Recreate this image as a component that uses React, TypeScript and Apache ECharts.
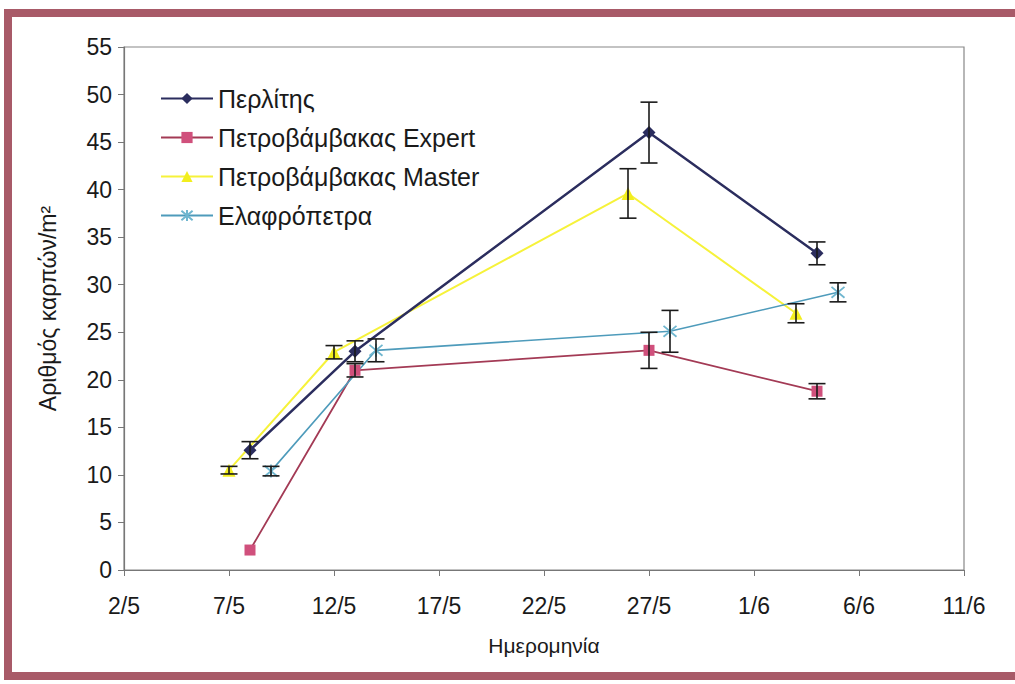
import React, { useEffect, useRef } from "react";
import * as echarts from "echarts";

const tickLabels = ["2/5", "7/5", "12/5", "17/5", "22/5", "27/5", "1/6", "6/6", "11/6"];

const perlitisDates = ["8/5", "13/5", "27/5", "4/6"];
const perlitisValues = [12.6, 23.0, 46.0, 33.3];
const perlitisErr = [0.9, 1.1, 3.2, 1.2];

const expertDates = ["8/5", "13/5", "27/5", "4/6"];
const expertValues = [2.1, 21.0, 23.1, 18.8];
const expertErr = [0.0, 0.7, 1.9, 0.8];

const masterDates = ["7/5", "12/5", "26/5", "3/6"];
const masterValues = [10.5, 22.9, 39.6, 27.0];
const masterErr = [0.4, 0.7, 2.6, 1.0];

const elafroDates = ["9/5", "14/5", "28/5", "5/6"];
const elafroValues = [10.4, 23.1, 25.1, 29.2];
const elafroErr = [0.5, 1.2, 2.2, 1.0];

const seriesNames = ["Περλίτης", "Πετροβάμβακας Expert", "Πετροβάμβακας Master", "Ελαφρόπετρα"];

function dayOf(s: string): number {
  const [d, m] = s.split("/").map(Number);
  return m === 5 ? d - 2 : 29 + d;
}

function pts(dates: string[], vals: number[]) {
  return dates.map((d, i) => [dayOf(d), vals[i]]);
}
function errs(dates: string[], vals: number[], e: number[]) {
  return dates.map((d, i) => [dayOf(d), vals[i] - e[i], vals[i] + e[i]]);
}

const FONT = "Liberation Sans";

function errorSeries(data: number[][]) {
  return {
    type: "custom",
    data,
    z: 5,
    silent: true,
    renderItem: (params: any, api: any) => {
      const x = api.value(0);
      const lo = api.value(1);
      const hi = api.value(2);
      if (hi - lo < 0.05) return { type: "group", children: [] };
      const p1 = api.coord([x, hi]);
      const p2 = api.coord([x, lo]);
      const w = 8.5;
      const style = { stroke: "#1a1a1a", lineWidth: 1.6 };
      return {
        type: "group",
        children: [
          { type: "line", shape: { x1: p1[0], y1: p1[1], x2: p2[0], y2: p2[1] }, style },
          { type: "line", shape: { x1: p1[0] - w, y1: p1[1], x2: p1[0] + w, y2: p1[1] }, style },
          { type: "line", shape: { x1: p2[0] - w, y1: p2[1], x2: p2[0] + w, y2: p2[1] }, style },
        ],
      };
    },
  };
}

export default function App() {
  const ref = useRef<HTMLDivElement>(null);
  useEffect(() => {
    if (!ref.current) return;
    const chart = echarts.init(ref.current, null, { renderer: "svg" });
    const asterisk = "path://M0,0L10,10M10,0L0,10M5,-1L5,11";
    chart.setOption({
      animation: false,
      backgroundColor: "#ffffff",
      textStyle: { fontFamily: FONT },
      grid: { left: 124, right: 51, top: 47, bottom: 114, show: true, borderColor: "#888", borderWidth: 1.2 },
      legend: {
        orient: "vertical",
        left: 160,
        top: 86,
        itemWidth: 52,
        itemHeight: 14,
        itemGap: 14,
        padding: 0,
        data: seriesNames,
        textStyle: { fontFamily: FONT, fontSize: 25, color: "#1a1a1a" },
      },
      xAxis: {
        type: "value",
        min: 0,
        max: 40,
        interval: 5,
        name: "Ημερομηνία",
        nameLocation: "middle",
        nameGap: 65,
        nameTextStyle: { fontFamily: FONT, fontSize: 21, color: "#1a1a1a" },
        axisLine: { lineStyle: { color: "#777", width: 1.2 } },
        axisTick: { show: true, length: 6, lineStyle: { color: "#777" } },
        splitLine: { show: false },
        axisLabel: {
          fontFamily: FONT,
          fontSize: 23,
          color: "#1a1a1a",
          margin: 24,
          formatter: (v: number) => tickLabels[Math.round(v / 5)] ?? "",
        },
      },
      yAxis: {
        type: "value",
        min: 0,
        max: 55,
        interval: 5,
        name: "Αριθμός καρπών/m²",
        nameLocation: "middle",
        nameRotate: 90,
        nameGap: 65,
        nameTextStyle: { fontFamily: FONT, fontSize: 23, color: "#1a1a1a" },
        axisLine: { show: true, lineStyle: { color: "#777", width: 1.2 } },
        axisTick: { show: true, length: 6, lineStyle: { color: "#777" } },
        splitLine: { show: false },
        axisLabel: { fontFamily: FONT, fontSize: 23, color: "#1a1a1a", margin: 12 },
      },
      series: [
        {
          name: seriesNames[0],
          type: "line",
          data: pts(perlitisDates, perlitisValues),
          symbol: "diamond",
          symbolSize: 13,
          lineStyle: { color: "#2b2d5e", width: 2.5 },
          itemStyle: { color: "#2b2d5e" },
          z: 4,
        },
        {
          name: seriesNames[1],
          type: "line",
          data: pts(expertDates, expertValues),
          symbol: "rect",
          symbolSize: 11,
          lineStyle: { color: "#a33a55", width: 1.8 },
          itemStyle: { color: "#d0507c" },
          z: 3,
        },
        {
          name: seriesNames[2],
          type: "line",
          data: pts(masterDates, masterValues),
          symbol: "triangle",
          symbolSize: 13,
          lineStyle: { color: "#f6f23a", width: 2 },
          itemStyle: { color: "#f2ee1e" },
          z: 2,
        },
        {
          name: seriesNames[3],
          type: "line",
          data: pts(elafroDates, elafroValues),
          symbol: asterisk,
          symbolSize: 13,
          lineStyle: { color: "#4e9bbb", width: 1.6 },
          itemStyle: { color: "rgba(0,0,0,0)", borderColor: "#6fb6cf", borderWidth: 1.8 },
          z: 3,
        },
        errorSeries(errs(perlitisDates, perlitisValues, perlitisErr)),
        errorSeries(errs(expertDates, expertValues, expertErr)),
        errorSeries(errs(masterDates, masterValues, masterErr)),
        errorSeries(errs(elafroDates, elafroValues, elafroErr)),
      ],
    });
    return () => chart.dispose();
  }, []);

  return (
    <div style={{ position: "fixed", left: 0, top: 0, width: 1015, height: 684, background: "#fff" }}>
      <div
        style={{
          position: "absolute",
          left: 4,
          top: 9,
          width: 1015,
          height: 684 - 9 - 4,
          borderLeft: "8px solid #a85a68",
          borderTop: "8px solid #a85a68",
          borderBottom: "8px solid #a85a68",
          boxSizing: "border-box",
          pointerEvents: "none",
          zIndex: 2,
        }}
      />
      <div ref={ref} style={{ position: "absolute", left: 0, top: 0, width: 1015, height: 684 }} />
    </div>
  );
}
